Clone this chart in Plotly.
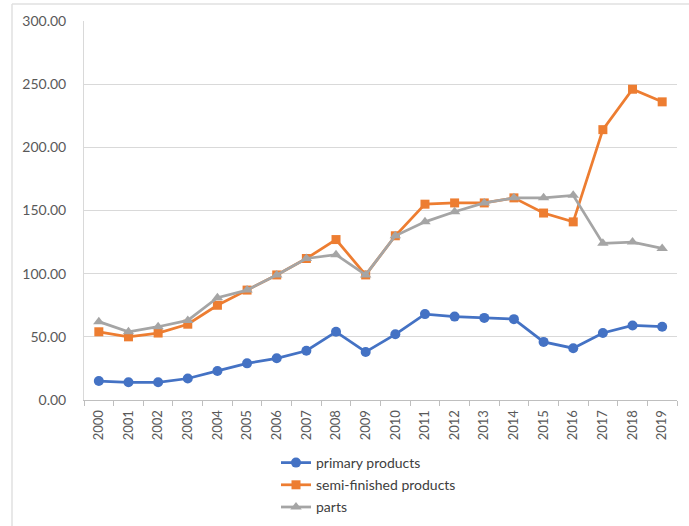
import plotly.graph_objects as go

years = [str(y) for y in range(2000, 2020)]
primary = [15, 14, 14, 17, 23, 29, 33, 39, 54, 38, 52, 68, 66, 65, 64, 46, 41, 53, 59, 58]
semi = [54, 50, 53, 60, 75, 87, 99, 112, 127, 99, 130, 155, 156, 156, 160, 148, 141, 214, 246, 236]
parts = [62, 54, 58, 63, 81, 87, 99, 112, 115, 99, 130, 141, 149, 156, 160, 160, 162, 124, 125, 120]

names = ["primary products", "semi-finished products", "parts"]
colors = ["#4472C4", "#ED7D31", "#A5A5A5"]
symbols = ["circle", "square", "triangle-up"]
sizes = [10, 9, 10]
series = [primary, semi, parts]

fig = go.Figure()
for i, (name, vals, col, sym, sz) in enumerate(zip(names, series, colors, symbols, sizes)):
    fig.add_trace(go.Scatter(
        x=years, y=vals, name=name, mode="lines+markers", legendgroup=f"g{i}",
        line=dict(color=col, width=2.75),
        marker=dict(symbol=sym, size=sz, color=col),
    ))

W, H = 689, 526
L, R, T, B = 84, 12, 21, 126
pw, ph = W - L - R, H - T - B

def px(x):
    return (x - L) / pw

def py(y):
    return (H - B - y) / ph

fig.update_layout(
    width=W, height=H,
    margin=dict(l=L, r=R, t=T, b=B, autoexpand=False),
    paper_bgcolor="white", plot_bgcolor="white",
    font=dict(family="Lato, Open Sans, sans-serif", size=12, color="#595959"),
    showlegend=True,
    legend=dict(
        orientation="v", x=px(276), y=py(447), xanchor="left", yanchor="top",
        font=dict(size=14, color="#404040"), bgcolor="rgba(0,0,0,0)",
        tracegroupgap=1,
    ),
    xaxis=dict(
        type="category", range=[-0.5, 19.5], automargin=False,
        showline=True, linecolor="#BFBFBF", linewidth=1,
        ticks="outside", tickson="boundaries", ticklen=5, tickcolor="#BFBFBF",
        tickangle=-90, showgrid=False, ticklabelstandoff=4,
        tickfont=dict(size=13, color="#595959"),
    ),
    yaxis=dict(
        range=[0, 300], dtick=50, tickformat=".2f", automargin=False,
        showgrid=True, gridcolor="#D9D9D9", gridwidth=1,
        showline=True, linecolor="#D9D9D9", linewidth=1,
        zeroline=False, ticks="", ticklabelstandoff=14,
        tickfont=dict(size=14, color="#595959"),
    ),
    shapes=[
        dict(type="line", xref="paper", yref="paper", x0=px(12), x1=px(689), y0=py(4), y1=py(4),
             line=dict(color="#E0E0E0", width=1.5)),
        dict(type="line", xref="paper", yref="paper", x0=px(12), x1=px(12), y0=py(4), y1=py(526),
             line=dict(color="#E0E0E0", width=1.5)),
    ],
)

fig.write_html("out.html")
